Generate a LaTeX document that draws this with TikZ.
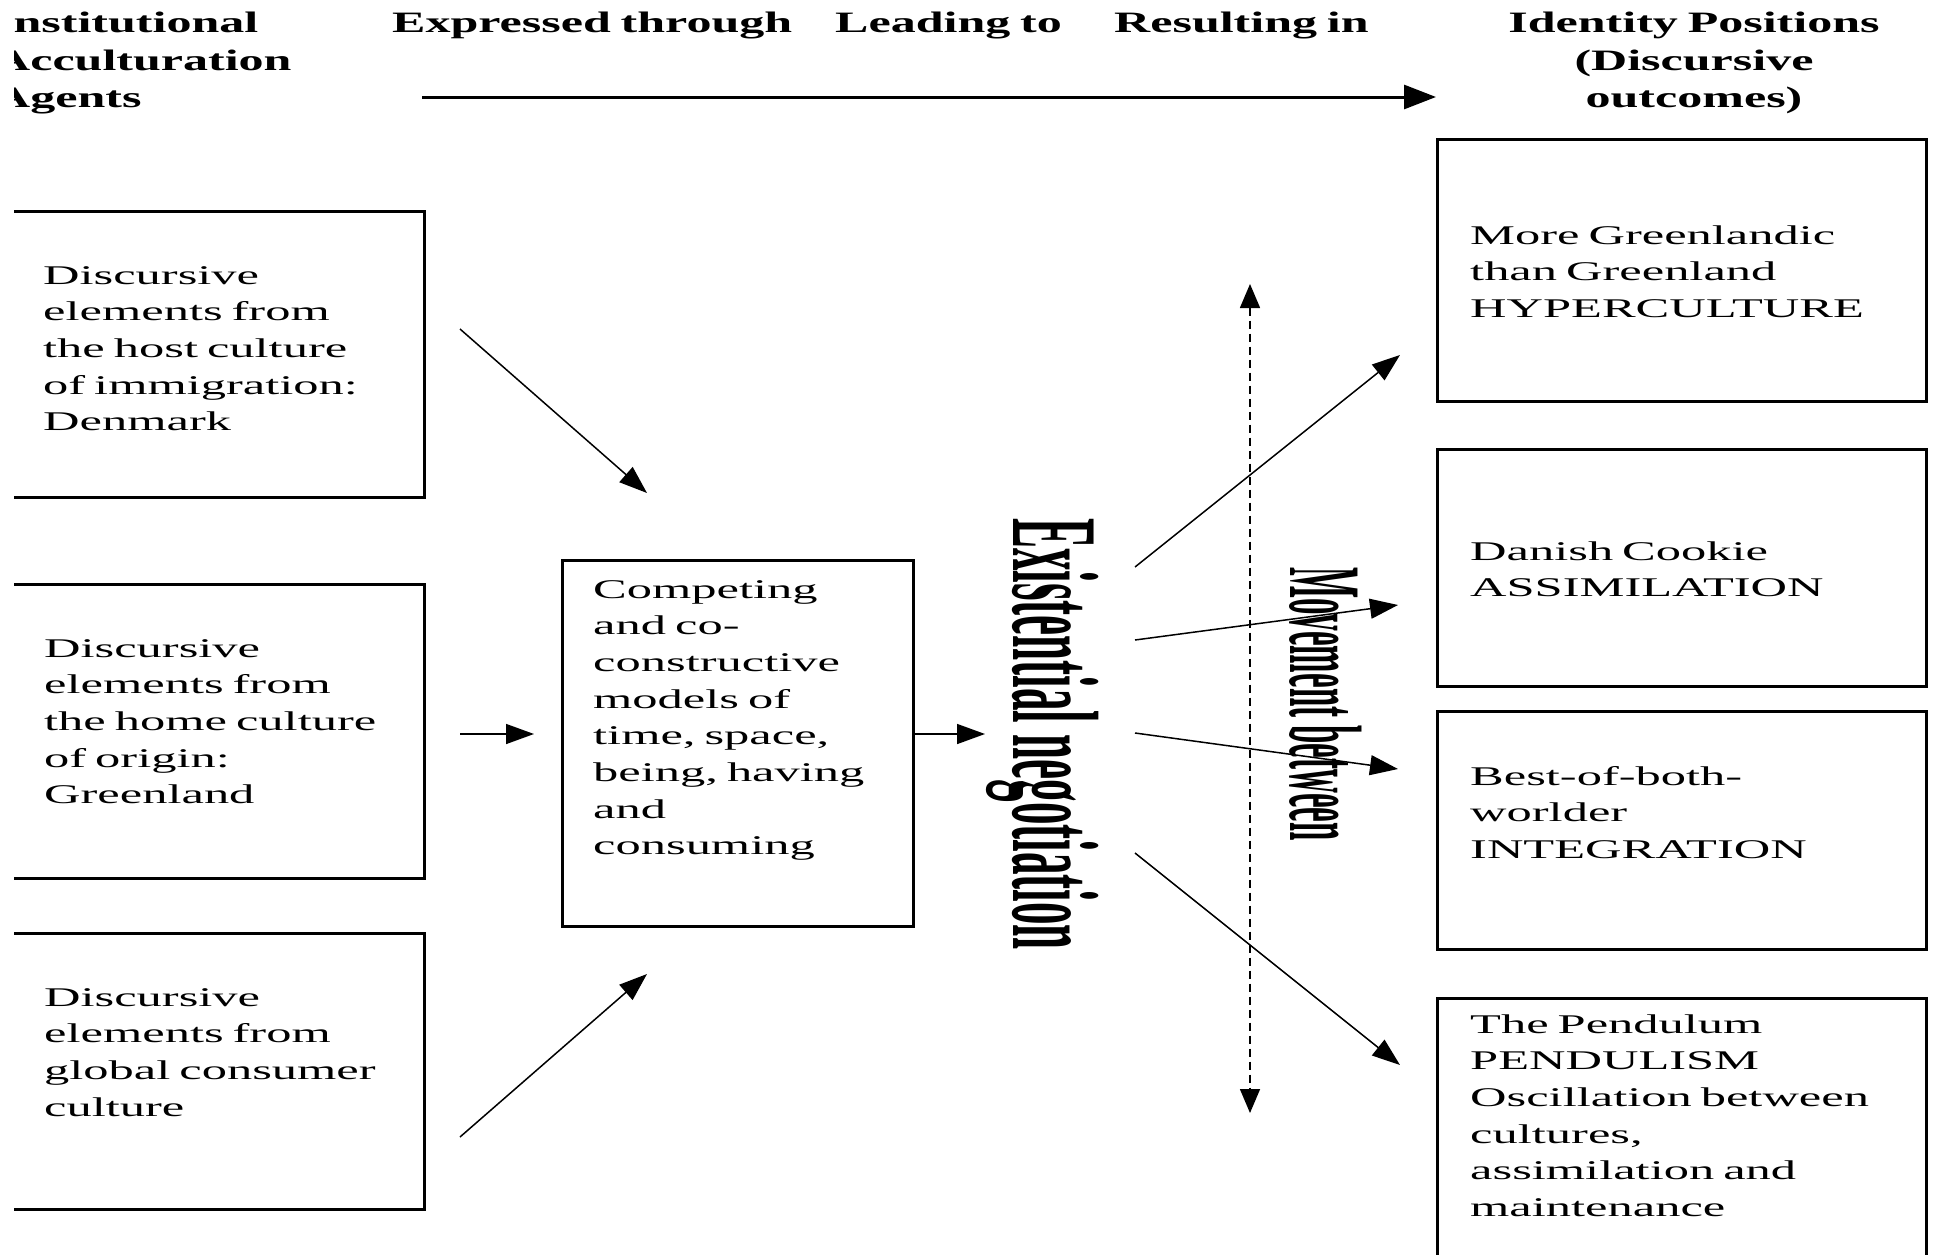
\documentclass[tikz,border=0pt]{standalone}
\usepackage{fontspec}
\setmainfont{Liberation Serif}
\newfontfamily\headfont{Liberation Serif}[FakeStretch=1.69]
\newfontfamily\boxfont{Liberation Serif}[FakeStretch=1.87]
\newfontfamily\negofont{Liberation Serif}[FakeStretch=0.366]
\newfontfamily\movefont{Liberation Serif}[FakeStretch=0.32]
\usetikzlibrary{arrows.meta, positioning}

\begin{document}
\begin{tikzpicture}[x=1pt, y=-1pt,
    frame/.style={draw, line width=2.5pt, inner sep=0pt, anchor=north west},
    boxtext/.style={font=\boxfont\fontsize{27}{36.7}\selectfont, text width=440pt, align=left, inner sep=0pt, anchor=base west},
    headtext/.style={font=\headfont\bfseries\fontsize{29.6}{37.5}\selectfont, text width=420pt, inner sep=0pt},
    arr/.style={line width=1.5pt, -{Triangle[length=28pt, width=20pt]}}]

    % page, cropped on the left
    \path[fill=white, use as bounding box] (0,0) rectangle (1933,1255);
    \clip (14,-10) rectangle (1940,1265);

    % column heads
    \node[headtext, align=left, anchor=base west] (agents) at (-6,33) {Institutional\\Acculturation\\Agents};
    \node[headtext, align=left, anchor=base west] (expressed) at (392,33) {Expressed through};
    \node[headtext, align=left, anchor=base west] (leading) at (835,33) {Leading to};
    \node[headtext, align=left, anchor=base west] (resulting) at (1114,33) {Resulting in};
    \node[headtext, align=center, anchor=base] (identity) at (1694,33) {Identity Positions\\(Discursive\\outcomes)};

    % flow arrow under the heads
    \coordinate (flowstart) at (422,97);
    \coordinate (flowend) at (1436,97);
    \draw[line width=3pt, -{Triangle[length=32pt, width=24pt]}] (flowstart) -- (flowend);

    % acculturation agents
    \node[frame, minimum width=423pt, minimum height=286pt] (hostbox) at (0,210) {};
    \node[boxtext] (host) at (43,284) {Discursive\\elements from\\the host culture\\of immigration:\\Denmark};
    \node[frame, minimum width=423pt, minimum height=294pt] (homebox) at (0,583) {};
    \node[boxtext] (home) at (44,657) {Discursive\\elements from\\the home culture\\of origin:\\Greenland};
    \node[frame, minimum width=423pt, minimum height=276pt] (globalbox) at (0,932) {};
    \node[boxtext] (global) at (44,1006) {Discursive\\elements from\\global consumer\\culture};

    % competing models
    \node[frame, minimum width=351pt, minimum height=366pt] (modelbox) at (561,559) {};
    \node[boxtext] (models) at (593,598) {Competing\\and co-\\constructive\\models of\\time, space,\\being, having\\and\\consuming};

    % existential negotiation and movement
    \node[rotate=-90, anchor=base west, inner sep=0pt, font=\negofont\bfseries\fontsize{123}{123}\selectfont] (nego) at (1013,518) {Existential negotiation};
    \node[rotate=-90, anchor=base west, inner sep=0pt, font=\movefont\bfseries\fontsize{103}{103}\selectfont] (move) at (1290,567) {Movement between};
    \coordinate (movetop) at (1250,284);
    \coordinate (movebot) at (1250,1113);
    \draw[line width=1.5pt, dash pattern=on 8pt off 5pt, {Triangle[length=24pt, width=20pt]}-{Triangle[length=24pt, width=20pt]}] (movetop) -- (movebot);

    % identity positions
    \node[frame, minimum width=489pt, minimum height=262pt] (hyperbox) at (1436,138) {};
    \node[boxtext] (hyper) at (1470,244) {More Greenlandic\\than Greenland\\HYPERCULTURE};
    \node[frame, minimum width=489pt, minimum height=237pt] (assimbox) at (1436,448) {};
    \node[boxtext] (assim) at (1470,560) {Danish Cookie\\ASSIMILATION};
    \node[frame, minimum width=489pt, minimum height=238pt] (integbox) at (1436,710) {};
    \node[boxtext] (integ) at (1470,785) {Best-of-both-\\worlder\\INTEGRATION};
    \node[frame, minimum width=489pt, minimum height=280pt] (pendbox) at (1436,997) {};
    \node[boxtext] (pend) at (1470,1033) {The Pendulum\\PENDULISM\\Oscillation between\\cultures,\\assimilation and\\maintenance};

    % arrows into the models box
    \coordinate (hostout) at (460,329);
    \coordinate (hostin) at (647,493);
    \coordinate (homeout) at (460,734);
    \coordinate (homein) at (534,734);
    \coordinate (globalout) at (460,1137);
    \coordinate (globalin) at (647,974);
    \draw[arr] (hostout) -- (hostin);
    \draw[arr] (homeout) -- (homein);
    \draw[arr] (globalout) -- (globalin);

    % models to negotiation
    \coordinate (modelout) at (914,734);
    \coordinate (negoin) at (985,734);
    \draw[arr] (modelout) -- (negoin);

    % negotiation to the identity positions
    \coordinate (hyperout) at (1135,567);
    \coordinate (hyperin) at (1400,355);
    \coordinate (assimout) at (1135,640);
    \coordinate (assimin) at (1398,605);
    \coordinate (integout) at (1135,733);
    \coordinate (integin) at (1398,769);
    \coordinate (pendout) at (1135,853);
    \coordinate (pendin) at (1400,1065);
    \draw[arr] (hyperout) -- (hyperin);
    \draw[arr] (assimout) -- (assimin);
    \draw[arr] (integout) -- (integin);
    \draw[arr] (pendout) -- (pendin);
\end{tikzpicture}
\end{document}
